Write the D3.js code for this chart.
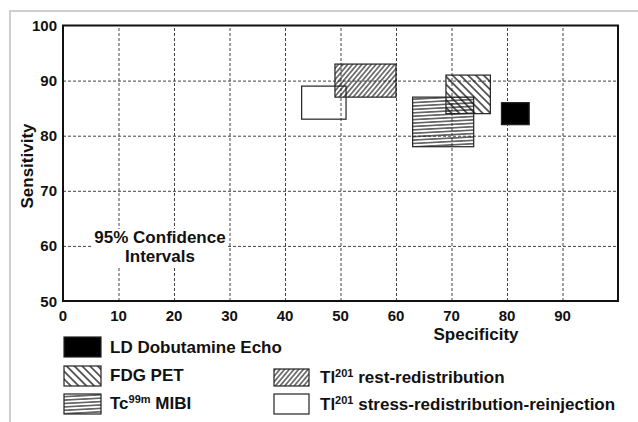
<!DOCTYPE html>
<html>
<head>
<meta charset="utf-8">
<script src="https://cdn.jsdelivr.net/npm/d3@7"></script>
<style>
  body { margin: 0; background: #fff; }
  svg text { font-family: "Liberation Sans", Arial, Helvetica, sans-serif; font-weight: bold; fill: #111; }
</style>
</head>
<body>
<div id="chart"></div>
<script>
// methods and their 95% confidence intervals (specificity x, sensitivity y)
const methods = ["LD Dobutamine Echo", "FDG PET", "Tc99m MIBI", "Tl201 rest-redistribution", "Tl201 stress-redistribution-reinjection"];
const specLow  = [79, 69, 63, 49, 43];
const specHigh = [84, 77, 74, 60, 51];
const sensLow  = [82, 84, 78, 87, 83];
const sensHigh = [86, 91, 87, 93, 89];
const xTicks = [0, 10, 20, 30, 40, 50, 60, 70, 80, 90];
const yTicks = [50, 60, 70, 80, 90, 100];

const width = 638, height = 422;
const plot = { left: 63, right: 618, top: 25.5, bottom: 301 };

const svg = d3.select("#chart").append("svg")
  .attr("width", width)
  .attr("height", height);

// 填充样式
const defs = svg.append("defs");
function hatch(id, size, angle, sw) {
  const p = defs.append("pattern")
    .attr("id", id)
    .attr("patternUnits", "userSpaceOnUse")
    .attr("width", size)
    .attr("height", size)
    .attr("patternTransform", `rotate(${angle})`);
  p.append("line")
    .attr("x1", 0).attr("y1", size / 2)
    .attr("x2", size).attr("y2", size / 2)
    .attr("stroke", "#111")
    .attr("stroke-width", sw);
}
hatch("p-fdg", 5.5, 45, 1.3);
hatch("p-mibi", 3.4, -3, 1.1);
hatch("p-rest", 3.6, -50, 1.1);

const fills = ["#000", "url(#p-fdg)", "url(#p-mibi)", "url(#p-rest)", "none"];

// outer frame
svg.append("path")
  .attr("d", `M10,${height} V11 H${width}`)
  .attr("fill", "none")
  .attr("stroke", "#cfcfcf")
  .attr("stroke-width", 2);

const x = d3.scaleLinear().domain([0, 100]).range([plot.left, plot.right]);
const y = d3.scaleLinear().domain([50, 100]).range([plot.bottom, plot.top]);

// grid
svg.append("g")
  .attr("transform", `translate(0,${plot.bottom})`)
  .call(d3.axisBottom(x).tickValues(xTicks.slice(1)).tickSize(-(plot.bottom - plot.top)).tickFormat(""))
  .call(g => g.select(".domain").remove())
  .selectAll("line")
  .attr("stroke", "#444")
  .attr("stroke-dasharray", "3,2");

svg.append("g")
  .attr("transform", `translate(${plot.left},0)`)
  .call(d3.axisLeft(y).tickValues(yTicks.slice(1, -1)).tickSize(-(plot.right - plot.left)).tickFormat(""))
  .call(g => g.select(".domain").remove())
  .selectAll("line")
  .attr("stroke", "#444")
  .attr("stroke-dasharray", "3,2");

// annotation
svg.append("rect")
  .attr("x", 92).attr("y", 229)
  .attr("width", 136).attr("height", 37)
  .attr("fill", "#fff");
svg.append("text")
  .attr("x", 160).attr("y", 243)
  .attr("text-anchor", "middle")
  .style("font-size", "17px")
  .text("95% Confidence");
svg.append("text")
  .attr("x", 160).attr("y", 262)
  .attr("text-anchor", "middle")
  .style("font-size", "17px")
  .text("Intervals");

// boxes
const order = [4, 3, 2, 1, 0];
svg.selectAll(".ci")
  .data(order)
  .enter().append("rect")
  .attr("class", "ci")
  .attr("x", i => x(specLow[i]))
  .attr("y", i => y(sensHigh[i]))
  .attr("width", i => x(specHigh[i]) - x(specLow[i]))
  .attr("height", i => y(sensLow[i]) - y(sensHigh[i]))
  .attr("fill", i => fills[i])
  .attr("stroke", "#222")
  .attr("stroke-width", 1.2);

// plot frame
svg.append("rect")
  .attr("x", plot.left).attr("y", plot.top)
  .attr("width", plot.right - plot.left)
  .attr("height", plot.bottom - plot.top)
  .attr("fill", "none")
  .attr("stroke", "#111")
  .attr("stroke-width", 2);

// tick labels
svg.selectAll(".xt")
  .data(xTicks)
  .enter().append("text")
  .attr("x", d => x(d))
  .attr("y", 321)
  .attr("text-anchor", "middle")
  .style("font-size", "15px")
  .text(d => d);

svg.selectAll(".yt")
  .data(yTicks)
  .enter().append("text")
  .attr("x", 57)
  .attr("y", d => y(d) + 5.5)
  .attr("text-anchor", "end")
  .style("font-size", "15px")
  .text(d => d);

// axis titles
svg.append("text")
  .attr("x", 476).attr("y", 340)
  .attr("text-anchor", "middle")
  .style("font-size", "17px")
  .text("Specificity");

svg.append("text")
  .attr("transform", "translate(33,166) rotate(-90)")
  .attr("text-anchor", "middle")
  .style("font-size", "17px")
  .text("Sensitivity");

// legend
const legendPos = [
  { x: 64, y: 337, w: 37, h: 20 },
  { x: 64, y: 366, w: 37, h: 20 },
  { x: 64, y: 394, w: 37, h: 20 },
  { x: 274, y: 369, w: 35, h: 17 },
  { x: 274, y: 394, w: 35, h: 20 }
];
const legendLabels = [
  { main: "LD Dobutamine Echo" },
  { main: "FDG PET" },
  { pre: "Tc", sup: "99m", main: " MIBI" },
  { pre: "Tl", sup: "201", main: " rest-redistribution" },
  { pre: "Tl", sup: "201", main: " stress-redistribution-reinjection" }
];
const legendText = [[110, 353], [110, 381], [110, 409], [320, 383], [320, 410]];

methods.forEach((m, i) => {
  const p = legendPos[i];
  svg.append("rect")
    .attr("x", p.x).attr("y", p.y)
    .attr("width", p.w).attr("height", p.h)
    .attr("fill", fills[i])
    .attr("stroke", "#222")
    .attr("stroke-width", 1.2);
  const lab = legendLabels[i];
  const t = svg.append("text")
    .attr("x", legendText[i][0])
    .attr("y", legendText[i][1])
    .style("font-size", "17px");
  if (lab.pre) {
    t.append("tspan").text(lab.pre);
    t.append("tspan").attr("dy", -6).style("font-size", "11px").text(lab.sup);
    t.append("tspan").attr("dy", 6).text(lab.main);
  } else {
    t.text(lab.main);
  }
});
</script>
</body>
</html>
